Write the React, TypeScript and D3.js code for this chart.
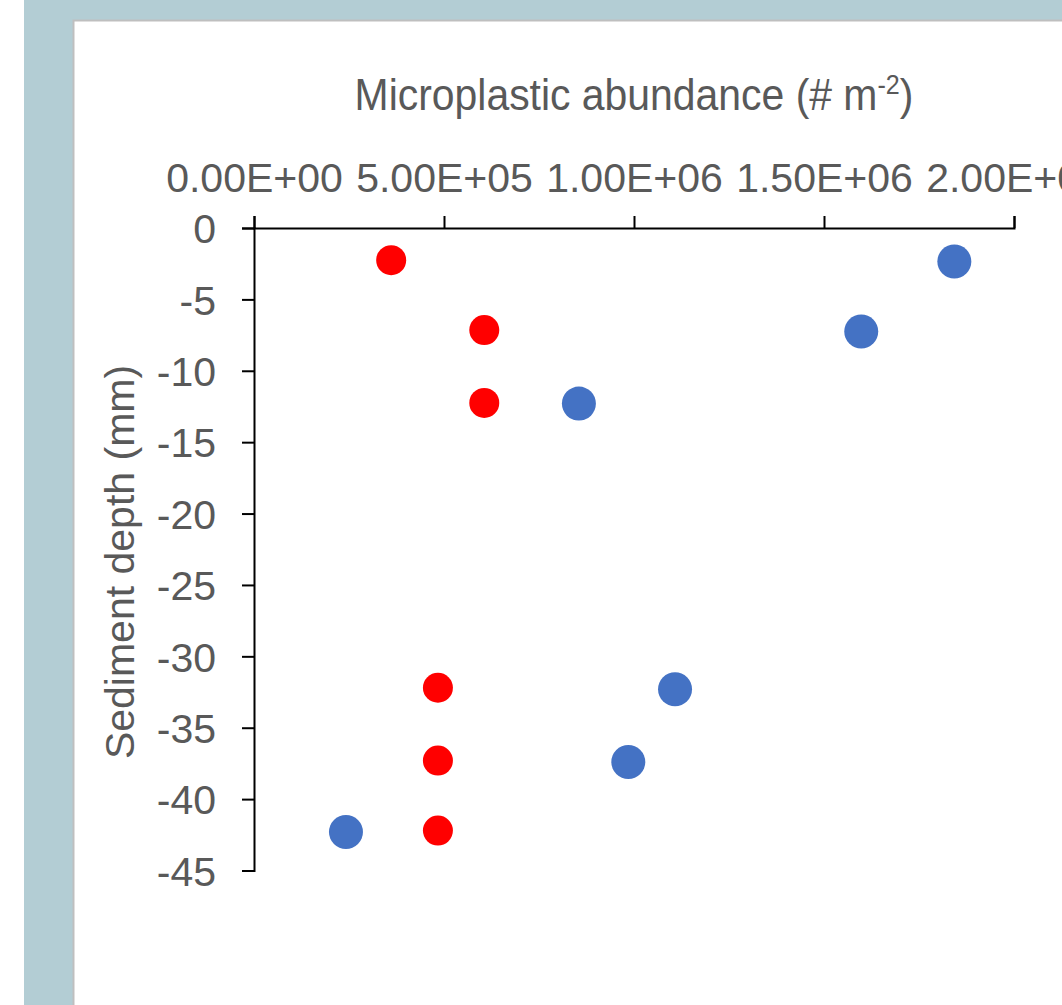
import React, { useEffect, useRef } from 'react';
import * as d3 from 'd3';

// depth (mm) and abundance (# m-2)
const redDepth = [-2.25, -7.15, -12.25, -32.2, -37.3, -42.2];
const redAbundance = [361000, 606000, 606000, 484000, 484000, 484000];
const blueDepth = [-2.35, -7.25, -12.3, -32.3, -37.4, -42.3];
const blueAbundance = [1843000, 1598000, 855000, 1108000, 985000, 242000];

const xTicks = [0, 500000, 1000000, 1500000, 2000000];
const yTicks = [0, -5, -10, -15, -20, -25, -30, -35, -40, -45];

const W = 1062;
const H = 1005;
const FONT = '"Liberation Sans", Arial, sans-serif';
const TEXT = '#595959';

// Excel-style scientific label, e.g. 5.00E+05
const sci = (v: number) => {
  const [m, e] = v.toExponential(2).split('e');
  const sign = e[0] === '-' ? '-' : '+';
  const ex = e.replace(/[+-]/, '').padStart(2, '0');
  return `${m}E${sign}${ex}`;
};

const App = () => {
  const svgRef = useRef<SVGSVGElement>(null);

  useEffect(() => {
    const svg = d3.select(svgRef.current);
    svg.selectAll('*').remove();

    // page background + chart panel
    svg.append('rect').attr('x', 24).attr('y', 0).attr('width', W - 24).attr('height', H).attr('fill', '#b3cdd4');
    svg.append('rect').attr('x', 73.5).attr('y', 20.5).attr('width', W).attr('height', H)
      .attr('fill', '#fff').attr('stroke', '#bfbfbf').attr('stroke-width', 2);

    const x = d3.scaleLinear().domain([0, 2000000]).range([254, 1014]);
    const y = d3.scaleLinear().domain([0, -45]).range([228, 870.5]);

    const xAxis = svg.append('g')
      .attr('transform', `translate(0,${y(0)})`)
      .call(d3.axisTop(x).tickValues(xTicks).tickFormat((d) => sci(+d)).tickSize(12).tickPadding(24));

    const yAxis = svg.append('g')
      .attr('transform', `translate(${x(0)},0)`)
      .call(d3.axisLeft(y).tickValues(yTicks).tickFormat((d) => String(d)).tickSize(12).tickPadding(26));

    [xAxis, yAxis].forEach((g) => {
      g.selectAll('path, line').attr('stroke', '#000').attr('stroke-width', 2);
      g.selectAll('text').attr('fill', TEXT).attr('font-family', FONT).attr('font-size', 41);
    });
    yAxis.selectAll('text').attr('dy', '0.36em');

    // axis titles
    const title = svg.append('text')
      .attr('x', 634).attr('y', 110).attr('text-anchor', 'middle')
      .attr('transform', 'translate(634,0) scale(0.93,1) translate(-634,0)')
      .attr('fill', TEXT).attr('font-family', FONT).attr('font-size', 44);
    title.append('tspan').text('Microplastic abundance (# m');
    title.append('tspan').attr('dy', -16).attr('font-size', 27).text('-2');
    title.append('tspan').attr('dy', 16).text(')');

    svg.append('text')
      .attr('transform', `translate(134,562) rotate(-90)`)
      .attr('text-anchor', 'middle')
      .attr('fill', TEXT).attr('font-family', FONT).attr('font-size', 41)
      .text('Sediment depth (mm)');

    // series
    svg.append('g').selectAll('circle')
      .data(redDepth.map((d, i) => ({ depth: d, value: redAbundance[i] })))
      .join('circle')
      .attr('cx', (d) => x(d.value))
      .attr('cy', (d) => y(d.depth))
      .attr('r', 15)
      .attr('fill', '#ff0000');

    svg.append('g').selectAll('circle')
      .data(blueDepth.map((d, i) => ({ depth: d, value: blueAbundance[i] })))
      .join('circle')
      .attr('cx', (d) => x(d.value))
      .attr('cy', (d) => y(d.depth))
      .attr('r', 17)
      .attr('fill', '#4472c4');
  }, []);

  return <svg ref={svgRef} width={W} height={H} style={{ position: 'absolute', left: 0, top: 0 }} />;
};

export default App;
